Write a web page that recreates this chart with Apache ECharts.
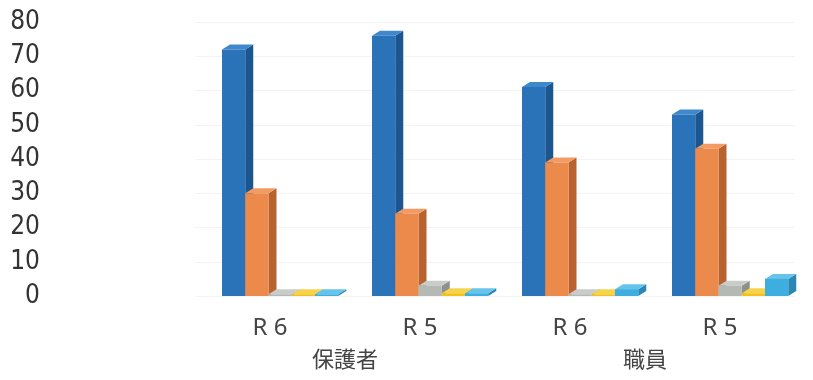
<!DOCTYPE html>
<html>
<head>
<meta charset="utf-8">
<script src="https://cdn.jsdelivr.net/npm/echarts@6/dist/echarts.min.js"></script>
<style>
html,body{margin:0;padding:0;background:#fff;}
#main{width:813px;height:380px;}
</style>
</head>
<body>
<div id="main"></div>
<script>
// categories
var categories = ['R 6', 'R 5', 'R 6', 'R 5'];
var groups = ['保護者', '職員'];
var yTicks = [0, 10, 20, 30, 40, 50, 60, 70, 80];

// series values
var blueVals = [72, 76, 61, 53];
var orangeVals = [30, 24, 39, 43];
var grayVals = [0.5, 3, 0.5, 3];
var yellowVals = [0.5, 0.8, 0.5, 0.8];
var lightBlueVals = [0.5, 0.8, 2, 5];

var myChart = echarts.init(document.getElementById('main'));

// front / side / top colours for each series
var palette = [
    ['#2b73b9', '#1b5690', '#3f88cc'],
    ['#ec8a4c', '#b8622f', '#f29c64'],
    ['#b4b9b4', '#8c918c', '#c9cdc9'],
    ['#f3c21b', '#c79a0e', '#f7d34c'],
    ['#3eaee0', '#2a86b3', '#66c3ec']
];
var allVals = [blueVals, orangeVals, grayVals, yellowVals, lightBlueVals];

//3D bar with a side and a top face
var makeRender = function(sIdx){
    return function(params, api){
        var cat = api.value(0);
        var val = api.value(1);
        var base = api.coord([cat, 0]);
        var top = api.coord([cat, val]);
        var band = api.size([1, 0])[0];
        var w = band * 0.155;
        var x0 = base[0] - band * 0.32 + sIdx * w;
        var yb = base[1];
        var yt = top[1];
        var dx = 8, dy = 5;
        var c = palette[sIdx];
        return {
            type: 'group',
            children: [
                {
                    type: 'polygon',
                    shape: {points: [[x0 + w, yt], [x0 + w + dx, yt - dy], [x0 + w + dx, yb - dy], [x0 + w, yb]]},
                    style: {fill: c[1]}
                },
                {
                    type: 'polygon',
                    shape: {points: [[x0, yt], [x0 + dx, yt - dy], [x0 + w + dx, yt - dy], [x0 + w, yt]]},
                    style: {fill: c[2]}
                },
                {
                    type: 'rect',
                    shape: {x: x0, y: yt, width: w, height: yb - yt},
                    style: {fill: c[0]}
                }
            ]
        };
    };
};

var seriesList = [];
allVals.forEach(function(vals, i){
    seriesList.push({
        type: 'custom',
        renderItem: makeRender(i),
        encode: {x: 0, y: 1},
        data: vals.map(function(v, k){ return [k, v]; })
    });
});

var option = {
    animation: false,
    backgroundColor: '#fff',
    grid: {left: 195, right: 18, top: 22, bottom: 84},
    xAxis: [
        {
            type: 'category',
            data: categories,
            axisLine: {show: false},
            axisTick: {show: false},
            axisLabel: {
                margin: 20,
                fontSize: 24,
                color: '#444',
                fontFamily: 'Noto Sans'
            }
        },
        {
            type: 'category',
            data: groups,
            position: 'bottom',
            offset: 52,
            axisLine: {show: false},
            axisTick: {show: false},
            axisLabel: {
                margin: 0,
                fontSize: 22,
                color: '#444',
                fontFamily: 'Noto Sans CJK JP'
            }
        }
    ],
    yAxis: {
        type: 'value',
        min: yTicks[0],
        max: yTicks[yTicks.length - 1],
        interval: 10,
        axisLine: {show: false},
        axisTick: {show: false},
        splitLine: {lineStyle: {color: '#f3f3f3'}},
        axisLabel: {
            margin: 155,
            fontSize: 26,
            color: '#333',
            fontFamily: "'Liberation Sans Narrow', 'DejaVu Sans Condensed', Roboto"
        }
    },
    series: seriesList
};
myChart.setOption(option);
</script>
</body>
</html>
